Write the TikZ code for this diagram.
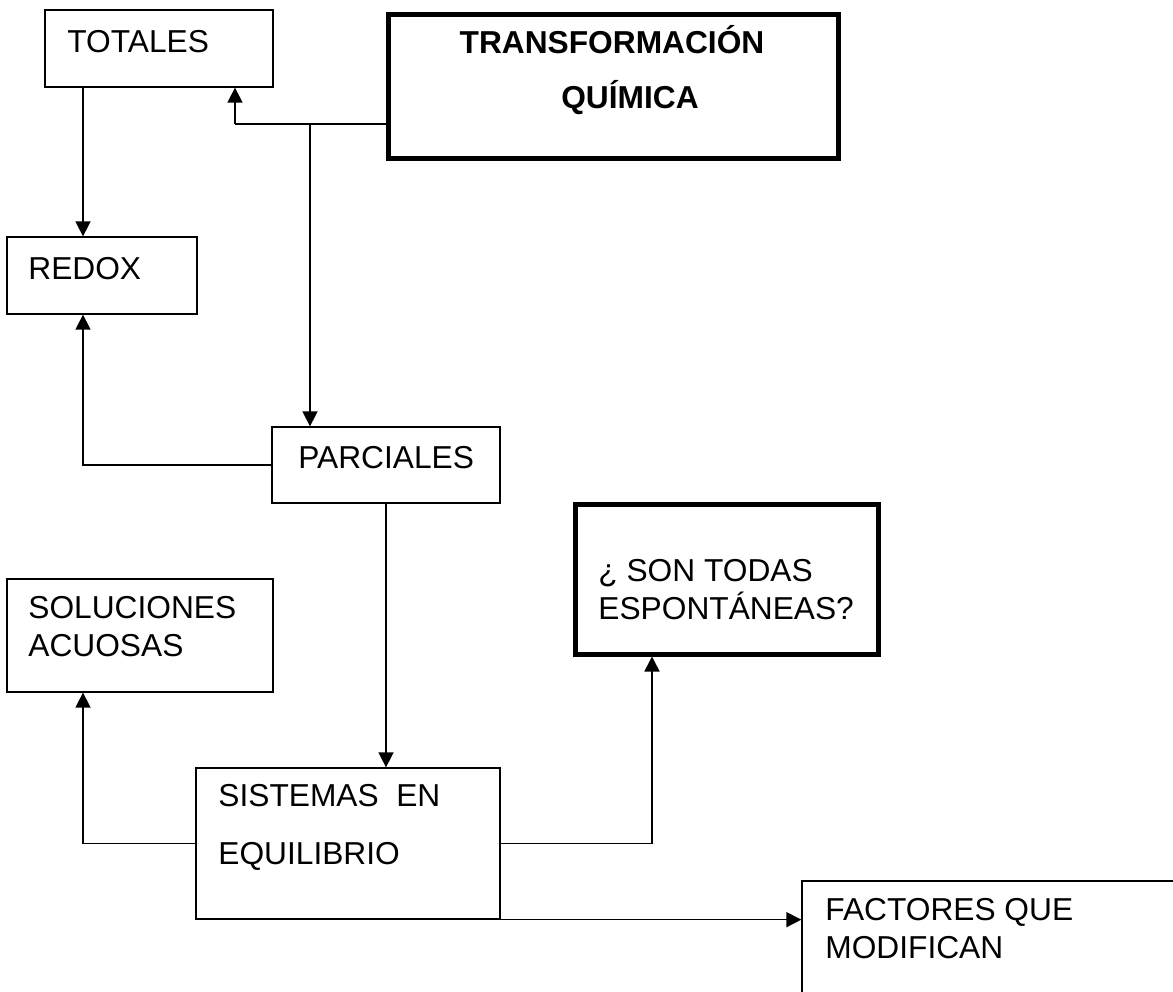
\documentclass[tikz,border=0pt]{standalone}
\usepackage{fontspec}
\setmainfont{Liberation Sans}
\usepackage{tikz}
\usetikzlibrary{arrows.meta,fit}

\begin{document}
\begin{tikzpicture}[x=0.5pt,y=-0.5pt,
	box/.style={draw,line width=0.65pt,inner sep=0pt},
	bigbox/.style={draw,line width=2.5pt,inner sep=0pt},
	txt/.style={font=\fontsize{15.85pt}{18.7pt}\selectfont,inner sep=0pt,align=left,anchor=base west},
	bold/.style={txt,anchor=base,font=\fontsize{15.85pt}{18.7pt}\selectfont\bfseries},
	conn/.style={line width=0.8pt},
	arr/.style={conn,-{Triangle[length=7.5pt,width=7.5pt]}}]
\clip (0,0) rectangle (1173,991);
% cajas
\foreach \n/\xa/\ya/\xb/\yb in {totales/45/10/273/87,redox/7/237/197/314,parciales/272/427/500/503,soluciones/7/579/273/692,sistemas/196/768/500/919,factores/802/881/1190/1010}
	\node[box,fit={(\xa,\ya) (\xb,\yb)}] (\n) {};
\node[bigbox,fit={(388,14) (838,158)}] (trans) {};
\node[bigbox,fit={(575,504) (878,654)}] (espont) {};

% textos (base = ultima linea)
\node[bold] (trans-a) at (612,53) {TRANSFORMACIÓN};
\node[bold] (trans-b) at (630,108) {QUÍMICA};
\node[txt] (totales-t) at (67,52) {TOTALES};
\node[txt] (redox-t) at (28,279) {REDOX};
\node[txt] (parciales-t) at (298,468) {PARCIALES};
\node[txt] (soluciones-t) at (28,656) {SOLUCIONES\\ACUOSAS};
\node[txt] (espont-t) at (598,619) {¿ SON TODAS\\ESPONTÁNEAS?};
\node[txt] (sistemas-t) at (218,864) {SISTEMAS\ \ EN\\[10.3pt]EQUILIBRIO};
\node[txt] (factores-t) at (825,958) {FACTORES QUE\\MODIFICAN};

% conectores
\coordinate (a1) at (235,124);
\coordinate (a2) at (310,124);
\coordinate (xl) at (83,0);
\coordinate (xe) at (652,0);
\draw[conn] (trans.west |- a1) -- (a1);
\draw[arr] (a1) -- (a1 |- totales.south);
\draw[arr] (a2) -- (a2 |- parciales.north);
\draw[arr] (totales.south -| xl) -- (redox.north -| xl);
\draw[arr] (parciales.west) -| (xl |- redox.south);
\draw[arr] (parciales.south) -- (parciales.south |- sistemas.north);
\draw[arr] (sistemas.west) -| (xl |- soluciones.south);
\draw[arr] (sistemas.east) -| (xe |- espont.south);
\draw[arr] (sistemas.south east) -- (factores.west |- sistemas.south east);
\end{tikzpicture}
\end{document}
